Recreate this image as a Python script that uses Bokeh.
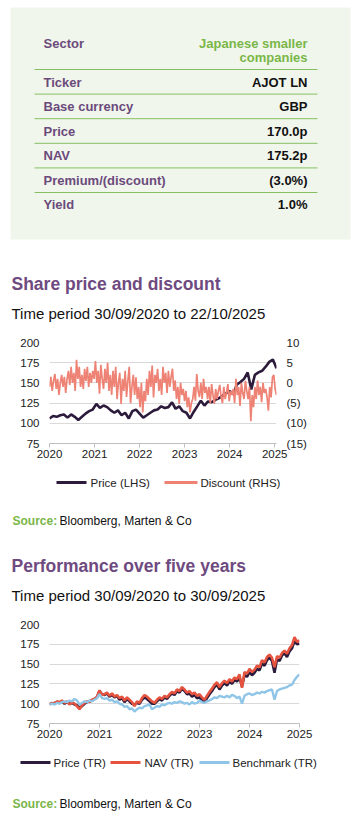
import numpy as np
from bokeh.plotting import figure
from bokeh.layouts import column
from bokeh.models import Range1d, LinearAxis, FixedTicker, CustomJSTickFormatter
from bokeh.embed import file_html
from bokeh.resources import INLINE
from bokeh.core.properties import value

W = 351
FONT = "Liberation Sans"

# ---------------- data ----------------
table_labels = ["Sector", "Ticker", "Base currency", "Price", "NAV", "Premium/(discount)", "Yield"]
sector_value_lines = ["Japanese smaller", "companies"]
table_values = ["AJOT LN", "GBP", "170.0p", "175.2p", "(3.0%)", "1.0%"]

title1 = "Share price and discount"
subtitle1 = "Time period 30/09/2020 to 22/10/2025"
title2 = "Performance over five years"
subtitle2 = "Time period 30/09/2020 to 30/09/2025"
source_label = "Source:"
source_text = "Bloomberg, Marten & Co"

year_ticks = [2020, 2021, 2022, 2023, 2024, 2025]
left_ticks = [75, 100, 125, 150, 175, 200]
right_ticks = [-15, -10, -5, 0, 5, 10]

# chart 1: share price (pence, LHS) and discount (%, RHS), 30/09/2020 to 22/10/2025
price = [106, 109, 108, 110, 111, 107, 111, 108, 104, 108,
         112, 115, 117, 124, 119, 122, 120, 116, 113, 116,
         110, 113, 106, 115, 117, 112, 107, 110, 113, 116,
         117, 121, 119, 120, 126, 118, 121, 115, 113, 106,
         114, 121, 128, 122, 127, 126, 129, 131, 134, 137,
         140, 136, 148, 151, 155, 163, 142, 160, 163, 165,
         170, 176, 179, 168]
discount = [-1, 1.5, -2, 0.5, 2.2, -1.5, 1, -3, 0, 2, -1, 1.5, -2.5, 1,
            3, -0.5, 4, 0, 2.5, -2, 5.7, 1, 4, -1,
            2, -1.5, 3.5, 0.5, 4, -1, 2.5, 0, 3, 1,
            5.4, 0, 3, -2.7, 4.5, 1, -1.5, 3.5, 0, 5, -2, 2,
            -3, 3, -1, 4, -4, 0, 2.5, -5.2, 1, -2, 3, -3.5, 0.5, 4, -5, -1, 2, -3,
            1.4, -4, -1, -6, 0, -7.3, -2, -4.5,
            1, -3, 3, -1, 4.3, -3.6, 2, 0, 3.5, -2, 1, -3, 4, 0, 2.5, -2.5, 3, -1, 1.5, 3.5,
            -2, 0.6, -4, -1, -5.2, 0, -3, -1.5, -4.5, -2,
            -6, -3.6, -7.3, -5, -4,
            -1, -4.4, 2.2, -2, -3.5, 0, -4, 1, -2.5, -1,
            -4, -1, -5, -0.3, -3, -5.2, -1.5, -4, -2, -0.5,
            -3.5, -5, -1, -4, -2.5, -0.3, -4.5, -2, -3, -1.5,
            -5, 1, -3, -1, -5.7, 0, -2.5, -4, 0.5, -2,
            -4, -1, -9.5, -3, -6,
            -1, -4, 0.6, -3, -1, -4.8, 0, -2.5, -1.5, -3.5,
            -6.9, -1, -3.6, 1.4, 2, -1.5, -3]

# chart 2: total return, rebased to 100
price_tr = [100, 100, 101, 102, 101, 103, 100, 102, 100, 101,
            99, 98, 95, 97, 100, 102, 103, 104, 106, 108,
            116, 112, 111, 113, 109, 111, 108, 110, 105, 107,
            102, 106, 103, 100, 99, 101, 100, 105, 108, 106,
            103, 100, 100, 103, 106, 104, 108, 106, 110, 113,
            111, 116, 114, 119, 116, 112, 113, 109, 111, 107,
            108, 104, 103, 107, 112, 116, 121, 124, 118, 123,
            126, 123, 128, 125, 130, 128, 133, 122, 136, 134,
            140, 136, 139, 144, 142, 151, 148, 155, 158, 154,
            139, 156, 154, 161, 164, 159, 166, 170, 179, 175,
            176]
nav_tr = [99, 101, 100, 103, 102, 104, 101, 103, 99, 102,
          100, 97, 93, 98, 101, 103, 102, 105, 106, 109,
          117, 111, 112, 114, 110, 113, 109, 111, 107, 109,
          104, 108, 105, 102, 97, 103, 101, 107, 111, 109,
          106, 103, 101, 105, 108, 106, 110, 108, 112, 115,
          113, 118, 116, 121, 118, 114, 116, 112, 114, 110,
          112, 108, 105, 110, 115, 119, 124, 127, 121, 126,
          129, 126, 131, 128, 133, 131, 137, 120, 140, 138,
          144, 140, 143, 148, 146, 155, 152, 159, 162, 158,
          146, 160, 158, 164, 167, 163, 170, 174, 184, 178,
          180]
bench_tr = [99, 100, 99, 101, 100, 102, 103, 102, 104, 103,
            106, 104, 99, 101, 103, 102, 104, 103, 105, 107,
            112, 107, 106, 107, 104, 105, 102, 103, 100, 99,
            96, 97, 93, 94, 90, 93, 95, 94, 97, 98,
            99, 93, 95, 97, 96, 99, 98, 100, 101, 100,
            102, 101, 103, 102, 100, 101, 99, 102, 100, 101,
            104, 102, 101, 103, 104, 106, 108, 107, 110, 109,
            108, 110, 108, 111, 110, 107, 109, 100, 110, 112,
            113, 111, 112, 114, 113, 115, 114, 116, 117, 118,
            105, 116, 118, 119, 120, 121, 123, 124, 130, 134,
            137]

# time positions (evenly spaced observations)
x1_start, x1_end = 2020.0, 2025.04
x2_start, x2_end = 2020.0, 2025.0
x_price = np.linspace(x1_start, x1_end, len(price))
x_disc = np.linspace(x1_start, x1_end, len(discount))
x_tr = np.linspace(x2_start, x2_end, len(nav_tr))

# ---------------- colours ----------------
PURPLE = "#6b4a7b"
TITLE_PURPLE = "#6e4a80"
GREEN = "#7ab648"
LINE_GREEN = "#86c062"
BG = "#f1f6ed"
C_PRICE = "#2d1b3c"
C_DISC = "#ee8274"
C_NAV = "#e5533f"
C_BENCH = "#8fc6e8"
GRID = "#d9d9d9"


def canvas(h):
    p = figure(width=W, height=h, x_range=Range1d(0, W), y_range=Range1d(h, 0),
               x_axis_type=None, y_axis_type=None, toolbar_location=None,
               output_backend="svg", min_border=0, outline_line_color=None,
               frame_align=False)
    return p


def txt(p, x, y, t, size, color="#000000", style="normal", align="left"):
    p.text(x=x, y=y, text=t, text_font=value(FONT), text_font_size=size,
           text_font_style=style, text_color=color, text_align=align,
           text_baseline="middle")


# ---------------- top: table + title 1 ----------------
top = canvas(330)
top.quad(left=10, right=350, top=7, bottom=239, fill_color=BG, line_color=None)
row_y = [43] + [82 + 24.4 * i for i in range(len(table_values))]
sep_y = [69 + 24.6 * i for i in range(len(table_values))]
top.segment(x0=34, x1=317, y0=sep_y, y1=sep_y, line_color=LINE_GREEN, line_width=1)
txt(top, [43] * len(table_labels), row_y, table_labels, "13px", PURPLE, "bold")
txt(top, [307, 307], [43, 57], sector_value_lines, "13px", GREEN, "bold", "right")
txt(top, [307] * len(table_values), row_y[1:], table_values, "13px", "#111111", "bold", "right")
txt(top, [11], [283], [title1], "17.5px", TITLE_PURPLE, "bold")
txt(top, [11], [313], [subtitle1], "15px", "#111111")


def style_chart(p):
    p.xgrid.visible = False
    p.ygrid.grid_line_color = GRID
    p.ygrid.ticker = FixedTicker(ticks=left_ticks)
    p.xaxis.ticker = FixedTicker(ticks=year_ticks)
    p.xaxis.formatter = CustomJSTickFormatter(code="return tick.toFixed(0);")
    p.xaxis.axis_line_color = "#bfbfbf"
    p.xaxis.major_tick_line_color = "#bfbfbf"
    p.xaxis.major_tick_out = 4
    p.xaxis.major_tick_in = 0
    p.xaxis.minor_tick_line_color = None
    p.xaxis.major_label_standoff = 2
    p.yaxis.ticker = FixedTicker(ticks=left_ticks)
    for ax in p.xaxis + p.yaxis:
        ax.major_label_text_font = FONT
        ax.major_label_text_font_size = "11.5px"
        ax.major_label_text_color = "#222222"
    p.yaxis.axis_line_color = None
    p.yaxis.major_tick_line_color = None
    p.yaxis.minor_tick_line_color = None
    p.yaxis.major_tick_out = 0
    p.yaxis.major_label_standoff = 10


# ---------------- chart 1 ----------------
c1 = figure(width=W, height=140, x_range=Range1d(x1_start, x1_end), y_range=Range1d(75, 200),
            toolbar_location=None, output_backend="svg", outline_line_color=None,
            min_border_left=49, min_border_right=75, min_border_top=12, min_border_bottom=27,
            frame_align=False)
style_chart(c1)
c1.extra_y_ranges = {"disc": Range1d(-15, 10)}
rax = LinearAxis(y_range_name="disc", ticker=FixedTicker(ticks=right_ticks),
                 formatter=CustomJSTickFormatter(code="return tick < 0 ? '(' + (-tick) + ')' : tick.toFixed(0);"))
rax.axis_line_color = None
rax.major_tick_line_color = None
rax.minor_tick_line_color = None
rax.major_tick_out = 0
rax.major_label_standoff = 10
rax.major_label_text_font = FONT
rax.major_label_text_font_size = "11.5px"
rax.major_label_text_color = "#222222"
c1.add_layout(rax, "right")
c1.line(x_price, price, line_color=C_PRICE, line_width=2.6)
c1.line(x_disc, discount, y_range_name="disc", line_color=C_DISC, line_width=1.7)

# ---------------- middle: legend 1, source, title 2 ----------------
mid = canvas(142)
mid.segment(x0=[56, 164], x1=[86, 197], y0=[12, 12], y1=[12, 12],
            line_color=[C_PRICE, C_DISC], line_width=3)
txt(mid, [90, 200], [12, 12], ["Price (LHS)", "Discount (RHS)"], "11.5px", "#222222")
txt(mid, [12], [50], [source_label], "12px", GREEN, "bold")
txt(mid, [59], [50], [source_text], "12px", "#111111")
txt(mid, [11], [95], [title2], "17.5px", TITLE_PURPLE, "bold")
txt(mid, [11], [125], [subtitle2], "15px", "#111111")

# ---------------- chart 2 ----------------
c2 = figure(width=W, height=133, x_range=Range1d(x2_start, x2_end), y_range=Range1d(75, 200),
            toolbar_location=None, output_backend="svg", outline_line_color=None,
            min_border_left=49, min_border_right=52, min_border_top=12, min_border_bottom=22,
            frame_align=False)
style_chart(c2)
c2.line(x_tr, price_tr, line_color=C_PRICE, line_width=2.6)
c2.line(x_tr, nav_tr, line_color=C_NAV, line_width=2.6)
c2.line(x_tr, bench_tr, line_color=C_BENCH, line_width=2.4)

# ---------------- bottom: legend 2, source ----------------
bot = canvas(74)
bot.segment(x0=[20, 110, 199], x1=[50, 140, 229], y0=[17, 17, 17], y1=[17, 17, 17],
            line_color=[C_PRICE, C_NAV, C_BENCH], line_width=3)
txt(bot, [53, 144, 232], [17, 17, 17], ["Price (TR)", "NAV (TR)", "Benchmark (TR)"], "11.5px", "#222222")
txt(bot, [12], [58], [source_label], "12px", GREEN, "bold")
txt(bot, [59], [58], [source_text], "12px", "#111111")

page = column(top, c1, mid, c2, bot, spacing=0)
open("out.html", "w").write(file_html(page, INLINE))
